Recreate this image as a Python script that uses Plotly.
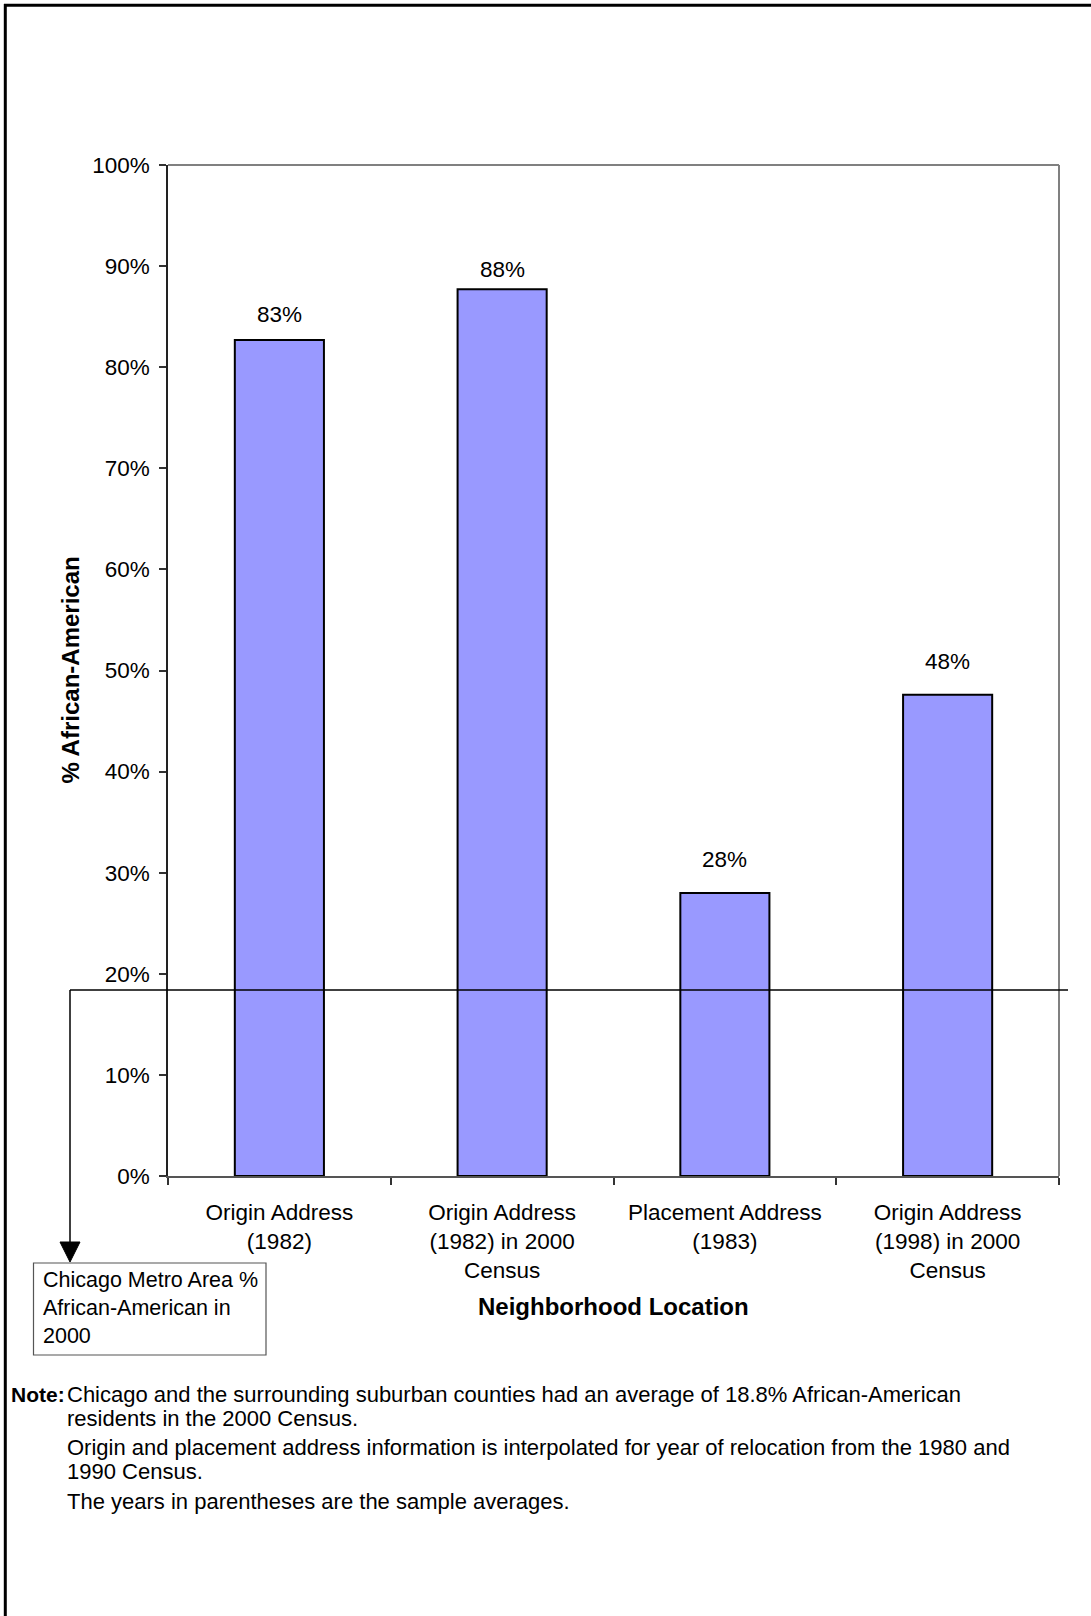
import plotly.graph_objects as go

# ---------------- data ----------------
categories = [
    "Origin Address<br>(1982)",
    "Origin Address<br>(1982) in 2000<br>Census",
    "Placement Address<br>(1983)",
    "Origin Address<br>(1998) in 2000<br>Census",
]
pct_african_american = [82.7, 87.7, 28.0, 47.6]
bar_labels = ["83%", "88%", "28%", "48%"]
metro_area_pct = 18.4
y_tick_values = [0, 10, 20, 30, 40, 50, 60, 70, 80, 90, 100]
y_tick_labels = ["0%", "10%", "20%", "30%", "40%", "50%", "60%", "70%", "80%", "90%", "100%"]

y_title = "% African-American"
x_title = "Neighborhood Location"
box_text = "Chicago Metro Area %<br>African-American in<br>2000"
note_label = "Note:"
note_lines = [
    "Chicago and the surrounding suburban counties had an average of 18.8% African-American",
    "residents in the 2000 Census.",
    "Origin and placement address information is interpolated for year of relocation from the 1980 and",
    "1990 Census.",
    "The years in parentheses are the sample averages.",
]

# ---------------- layout helpers ----------------
W, H = 1091, 1616
ML, MR, MT, MB = 168, 32, 165, 440
PL, PR, PT, PB = ML, W - MR, MT, H - MB


def px(x):
    return (x - PL) / (PR - PL)


def py(y):
    return (PB - y) / (PB - PT)


FONT = "Arial, 'Liberation Sans', sans-serif"
label_yshift = [25, 20, 33, 33]
note_line_y = [1394, 1418, 1447, 1471, 1501]

fig = go.Figure()
fig.add_trace(
    go.Bar(
        x=categories,
        y=pct_african_american,
        marker=dict(color="#9999FF", line=dict(color="black", width=2)),
        hoverinfo="skip",
    )
)

annotations = []
for cat, val, lab, ys in zip(categories, pct_african_american, bar_labels, label_yshift):
    annotations.append(
        dict(x=cat, y=val, xref="x", yref="y", text=lab, showarrow=False,
             yanchor="middle", yshift=ys, font=dict(size=22.5, color="black", family=FONT))
    )

# axis titles
annotations.append(
    dict(x=px(70), y=0.5, xref="paper", yref="paper", text="<b>" + y_title + "</b>",
         textangle=-90, showarrow=False, xanchor="center", yanchor="middle",
         font=dict(size=24, color="black", family=FONT))
)
annotations.append(
    dict(x=0.5, y=py(1306), xref="paper", yref="paper", text="<b>" + x_title + "</b>",
         showarrow=False, xanchor="center", yanchor="middle",
         font=dict(size=24, color="black", family=FONT))
)
# callout box text
annotations.append(
    dict(x=px(41), y=py(1266), xref="paper", yref="paper", text=box_text, align="left",
         showarrow=False, xanchor="left", yanchor="top",
         font=dict(size=21.5, color="black", family=FONT))
)
# note
annotations.append(
    dict(x=px(9), y=py(note_line_y[0]), xref="paper", yref="paper", text="<b>" + note_label + "</b>",
         showarrow=False, xanchor="left", yanchor="middle", align="left",
         font=dict(size=21, color="black", family=FONT))
)
for line, ly in zip(note_lines, note_line_y):
    annotations.append(
        dict(x=px(65), y=py(ly), xref="paper", yref="paper", text=line,
             showarrow=False, xanchor="left", yanchor="middle", align="left",
             font=dict(size=22, color="black", family=FONT))
    )

shapes = [
    # outer frame (left and top)
    dict(type="line", xref="paper", yref="paper", x0=px(5.3), x1=px(5.3), y0=py(4), y1=py(H),
         line=dict(color="black", width=3)),
    dict(type="line", xref="paper", yref="paper", x0=px(4), x1=px(W), y0=py(5.3), y1=py(5.3),
         line=dict(color="black", width=3)),
    # plot area border top/right
    dict(type="line", xref="paper", yref="paper", x0=0, x1=1, y0=1, y1=1,
         line=dict(color="#808080", width=2)),
    dict(type="line", xref="paper", yref="paper", x0=1, x1=1, y0=0, y1=1,
         line=dict(color="#808080", width=2)),
    # metro reference line
    dict(type="line", xref="paper", yref="y", x0=px(70), x1=px(1068), y0=metro_area_pct, y1=metro_area_pct,
         line=dict(color="black", width=1.5), layer="above"),
    # vertical leader line
    dict(type="line", xref="paper", yref="paper", x0=px(70), x1=px(70), y0=metro_area_pct / 100,
         y1=py(1244), line=dict(color="black", width=1.5)),
    # arrow head
    dict(type="path", xref="paper", yref="paper",
         path=f"M {px(60)},{py(1242)} L {px(80)},{py(1242)} L {px(70)},{py(1262)} Z",
         fillcolor="black", line=dict(color="black", width=1)),
    # callout box
    dict(type="rect", xref="paper", yref="paper", x0=px(33.5), x1=px(266), y0=py(1263), y1=py(1355),
         line=dict(color="#555555", width=1.2), fillcolor="rgba(0,0,0,0)"),
]

fig.update_layout(
    width=W, height=H,
    margin=dict(l=ML, r=MR, t=MT, b=MB, pad=0),
    paper_bgcolor="white", plot_bgcolor="white",
    showlegend=False,
    bargap=0.6,
    font=dict(family=FONT, size=22, color="black"),
    annotations=annotations,
    shapes=shapes,
)
fig.update_xaxes(
    type="category", showgrid=False, zeroline=False,
    showline=True, linecolor="#555555", linewidth=1.5,
    ticks="outside", tickson="boundaries", ticklen=7, tickcolor="#333333", tickwidth=1.5,
    ticklabelstandoff=15,
    tickfont=dict(size=22.5, color="black", family=FONT),
)
fig.update_yaxes(
    range=[0, 100], showgrid=False, zeroline=False,
    tickmode="array", tickvals=y_tick_values, ticktext=y_tick_labels,
    showline=True, linecolor="#222222", linewidth=1.5,
    ticks="outside", ticklen=7, tickcolor="#333333", tickwidth=1.5,
    ticklabelstandoff=5,
    tickfont=dict(size=22.5, color="black", family=FONT),
)

fig.write_html("out.html")
